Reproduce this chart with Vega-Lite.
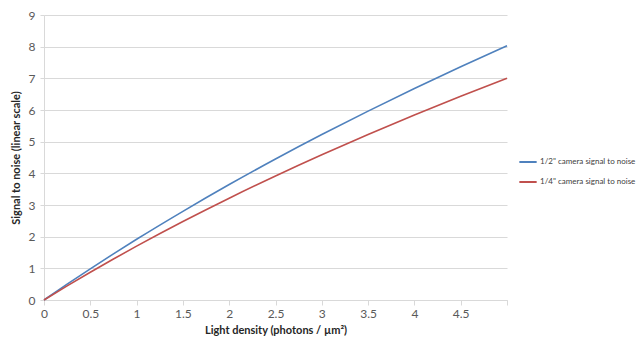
{
  "$schema": "https://vega.github.io/schema/vega-lite/v6.json",
  "width": 463,
  "height": 285,
  "autosize": {"type": "none"},
  "padding": {"left": 44, "top": 15, "right": 133, "bottom": 50},
  "background": "white",
  "data": {
    "values": [
      {"x": 0, "snr": 0, "series": "1/2\" camera signal to noise"},
      {"x": 0.25, "snr": 0.5, "series": "1/2\" camera signal to noise"},
      {"x": 0.5, "snr": 0.985, "series": "1/2\" camera signal to noise"},
      {"x": 0.75, "snr": 1.457, "series": "1/2\" camera signal to noise"},
      {"x": 1, "snr": 1.917, "series": "1/2\" camera signal to noise"},
      {"x": 1.5, "snr": 2.8, "series": "1/2\" camera signal to noise"},
      {"x": 2, "snr": 3.646, "series": "1/2\" camera signal to noise"},
      {"x": 2.5, "snr": 4.452, "series": "1/2\" camera signal to noise"},
      {"x": 3, "snr": 5.224, "series": "1/2\" camera signal to noise"},
      {"x": 3.5, "snr": 5.965, "series": "1/2\" camera signal to noise"},
      {"x": 4, "snr": 6.679, "series": "1/2\" camera signal to noise"},
      {"x": 4.5, "snr": 7.367, "series": "1/2\" camera signal to noise"},
      {"x": 5, "snr": 8.03, "series": "1/2\" camera signal to noise"},
      {"x": 0, "snr": 0, "series": "1/4\" camera signal to noise"},
      {"x": 0.25, "snr": 0.445, "series": "1/4\" camera signal to noise"},
      {"x": 0.5, "snr": 0.876, "series": "1/4\" camera signal to noise"},
      {"x": 0.75, "snr": 1.294, "series": "1/4\" camera signal to noise"},
      {"x": 1, "snr": 1.7, "series": "1/4\" camera signal to noise"},
      {"x": 1.5, "snr": 2.478, "series": "1/4\" camera signal to noise"},
      {"x": 2, "snr": 3.215, "series": "1/4\" camera signal to noise"},
      {"x": 2.5, "snr": 3.916, "series": "1/4\" camera signal to noise"},
      {"x": 3, "snr": 4.585, "series": "1/4\" camera signal to noise"},
      {"x": 3.5, "snr": 5.225, "series": "1/4\" camera signal to noise"},
      {"x": 4, "snr": 5.84, "series": "1/4\" camera signal to noise"},
      {"x": 4.5, "snr": 6.431, "series": "1/4\" camera signal to noise"},
      {"x": 5, "snr": 7.0, "series": "1/4\" camera signal to noise"}
    ]
  },
  "mark": {"type": "line", "strokeWidth": 1.6, "interpolate": "monotone"},
  "encoding": {
    "x": {
      "field": "x",
      "type": "quantitative",
      "scale": {"domain": [0, 5], "nice": false},
      "axis": {
        "title": "Light density (photons / µm²)",
        "values": [0, 0.5, 1, 1.5, 2, 2.5, 3, 3.5, 4, 4.5, 5],
        "labelExpr": "datum.value == 5 ? '' : format(datum.value, '~g')",
        "labelFlush": false,
        "grid": false,
        "domainColor": "#d9d9d9",
        "tickColor": "#d9d9d9",
        "tickSize": 5,
        "labelFont": "Lato",
        "labelFontSize": 12,
        "labelColor": "#595959",
        "labelPadding": 3,
        "titleFont": "Lato",
        "titleFontSize": 11,
        "titleFontWeight": "bold",
        "titleColor": "#262626",
        "titlePadding": 5
      }
    },
    "y": {
      "field": "snr",
      "type": "quantitative",
      "scale": {"domain": [0, 9], "nice": false},
      "axis": {
        "title": "Signal to noise (linear scale)",
        "values": [0, 1, 2, 3, 4, 5, 6, 7, 8, 9],
        "labelFlush": false,
        "grid": true,
        "gridColor": "#d9d9d9",
        "domainColor": "#d9d9d9",
        "tickColor": "#d9d9d9",
        "tickSize": 4,
        "labelFont": "Lato",
        "labelFontSize": 12,
        "labelColor": "#595959",
        "labelPadding": 5,
        "titleFont": "Lato",
        "titleFontSize": 11,
        "titleFontWeight": "bold",
        "titleColor": "#262626",
        "titlePadding": 7
      }
    },
    "color": {
      "field": "series",
      "type": "nominal",
      "scale": {"range": ["#4f81bd", "#c0504d"]},
      "legend": {
        "title": null,
        "orient": "none",
        "legendX": 474,
        "legendY": 137,
        "symbolType": "stroke",
        "symbolSize": 300,
        "symbolStrokeWidth": 2,
        "labelFont": "Lato",
        "labelFontSize": 8,
        "labelColor": "#404040",
        "rowPadding": 6,
        "labelOffset": 2
      }
    }
  },
  "config": {
    "view": {"stroke": null}
  }
}
